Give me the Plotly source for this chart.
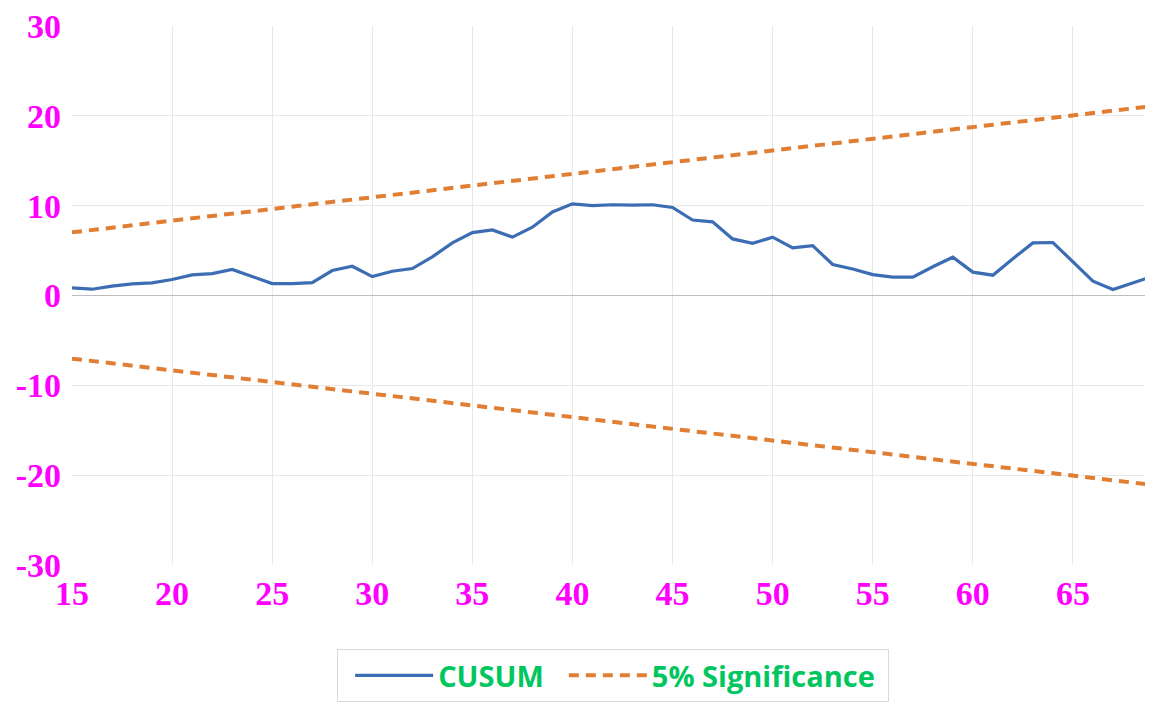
import plotly.graph_objects as go

x_obs = list(range(15, 70))
cusum = [0.85, 0.7, 1.04, 1.3, 1.4, 1.78, 2.3, 2.44, 2.9, 2.07,
         1.33, 1.33, 1.44, 2.78, 3.26, 2.1, 2.7, 3.0, 4.3, 5.85,
         7.0, 7.3, 6.5, 7.6, 9.3, 10.2, 10.0, 10.1, 10.05, 10.1,
         9.8, 8.4, 8.2, 6.3, 5.8, 6.5, 5.3, 5.55, 3.45, 2.95,
         2.33, 2.04, 2.05, 3.2, 4.26, 2.6, 2.26, 4.1, 5.85, 5.9,
         3.7, 1.6, 0.67, 1.4, 2.15]

bound_x = [15, 69]
upper_bound = [7.03, 21.09]
lower_bound = [-7.03, -21.09]

x_ticks = [15, 20, 25, 30, 35, 40, 45, 50, 55, 60, 65]
y_ticks = [-30, -20, -10, 0, 10, 20, 30]
y_tick_labels = ["-30", "-20", "-10", "0", "10", "20", "30"]

blue = "#3C6DB4"
orange = "#E07E34"
green = "#00C660"
tick_font = dict(family="Liberation Serif", size=34, color="#FF00FF", weight="bold")
NB = "\u00a0"

fig = go.Figure()
fig.add_trace(go.Scatter(x=x_obs, y=cusum, mode="lines", name="CUSUM" + NB * 2,
                         line=dict(color=blue, width=3.2)))
fig.add_trace(go.Scatter(x=bound_x, y=upper_bound, mode="lines",
                         name="5% Significance" + NB,
                         line=dict(color=orange, width=4, dash="10px,7px"),
                         legendgroup="sig"))
fig.add_trace(go.Scatter(x=bound_x, y=lower_bound, mode="lines", name="5% Significance",
                         line=dict(color=orange, width=4, dash="10px,7px"),
                         legendgroup="sig", showlegend=False))

# the page body adds an 8px margin; size the figure so no scrollbars appear and
# the plot area sits at x 72..1152, y 26..566 in the window
fig.update_layout(
    width=1145, height=694,
    margin=dict(l=64, r=0, t=18, b=136),
    paper_bgcolor="white", plot_bgcolor="white",
    showlegend=True,
    legend=dict(orientation="h", x=0.5, xanchor="center", y=-0.1556, yanchor="top",
                bordercolor="#D9D9D9", borderwidth=1, bgcolor="white",
                font=dict(family="Open Sans", size=29, color=green, weight="bold"),
                title=dict(text=NB, side="left", font=dict(size=14)),
                itemwidth=78, tracegroupgap=0),
)
fig.update_xaxes(range=[15, 69], tickvals=x_ticks, tickfont=tick_font, automargin=False,
                 showgrid=True, gridcolor="#E8E8E8", gridwidth=1,
                 zeroline=False, showline=False, ticks="", ticklabelstandoff=5,
                 ticklabeloverflow="allow")
fig.update_yaxes(range=[-30, 30], tickvals=y_ticks, ticktext=y_tick_labels,
                 tickfont=tick_font, automargin=False,
                 showgrid=True, gridcolor="#E8E8E8", gridwidth=1,
                 zeroline=True, zerolinecolor="#BDBDBD", zerolinewidth=1.3,
                 showline=False, ticks="", ticklabelstandoff=10,
                 ticklabeloverflow="allow")

fig.write_html("out.html")
